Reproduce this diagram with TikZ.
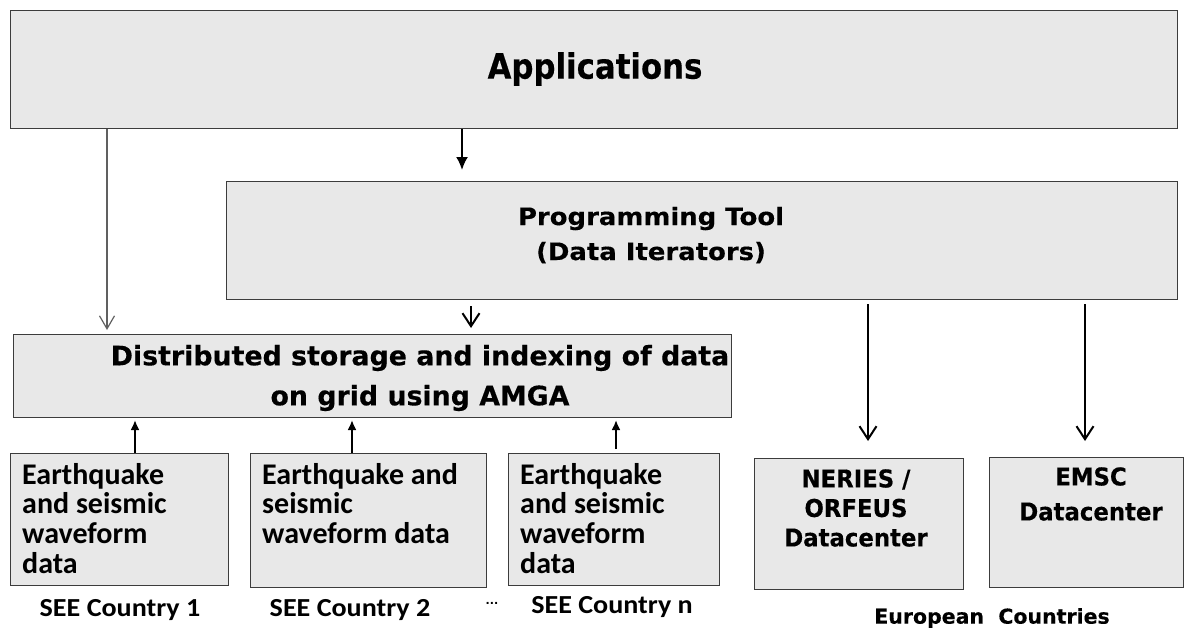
\documentclass[tikz,border=0pt]{standalone}
\usepackage{fontspec}
\setmainfont{DejaVu Sans}
\newfontfamily\tallfont{DejaVu Sans}[FakeStretch=0.88, FakeBold=0.3]
\newfontfamily\wideprog{DejaVu Sans}[FakeStretch=1.08, FakeBold=0.3]
\newfontfamily\dcfont{DejaVu Sans}[FakeStretch=0.93, FakeBold=0.3]
\newfontfamily\plainbold{DejaVu Sans}[FakeBold=0.3]
\newfontfamily\capfont{Carlito}
\newfontfamily\seefont{Carlito}[FakeStretch=1.08]
\usetikzlibrary{arrows.meta}
\definecolor{boxfill}{HTML}{E8E8E8}
\definecolor{boxline}{HTML}{3C3C3C}
\definecolor{thinline}{HTML}{606060}
\tikzset{
  panel/.style={draw=boxline, fill=boxfill, line width=1.4pt, inner sep=0pt, anchor=north west},
  heading/.style={inner sep=0pt, align=center},
  flowdown/.style={draw=black, line width=2pt, -{Latex[length=13pt,width=12pt]}},
  feed/.style={draw=black, line width=2pt, -{Straight Barb[length=13pt,width=17pt,line width=2pt]}},
  thinfeed/.style={draw=thinline, line width=1.2pt, -{Straight Barb[length=13pt,width=15pt,line width=1.2pt]}},
  flowup/.style={draw=black, line width=2pt, -{Latex[length=10pt,width=9pt]}},
  srctext/.style={inner sep=0pt, anchor=north west, align=left,
    font=\capfont\bfseries\fontsize{30}{29.7}\selectfont},
  country/.style={inner sep=0pt, font=\seefont\bfseries\fontsize{26}{28}\selectfont}
}
\begin{document}
\begin{tikzpicture}[x=1pt, y=-1pt]
\useasboundingbox (0,0) rectangle (1185,630);

% layers
\node[panel, minimum width=1167pt, minimum height=118pt] (app) at (10,10) {};
\node[panel, minimum width=951pt, minimum height=118pt] (prog) at (226,181) {};
\node[panel, minimum width=718pt, minimum height=83pt] (amga) at (13,334) {};

% data sources
\node[panel, minimum width=218pt, minimum height=132pt] (s1) at (10,453) {};
\node[panel, minimum width=236pt, minimum height=134pt] (s2) at (250,453) {};
\node[panel, minimum width=211pt, minimum height=132pt] (s3) at (508,453) {};
\node[panel, minimum width=209pt, minimum height=131pt] (neries) at (754,458) {};
\node[panel, minimum width=194pt, minimum height=130pt] (emsc) at (989,457) {};

% box texts
\node[heading, font=\tallfont\bfseries\fontsize{35}{40}\selectfont] (apptxt) at (595,69) {Applications};
\node[heading, font=\wideprog\bfseries\fontsize{24}{35}\selectfont] (progtxt) at (651,235) {Programming Tool\\(Data Iterators)};
\node[heading, font=\plainbold\bfseries\fontsize{26.8}{40}\selectfont] (amgatxt) at (420,378) {Distributed storage and indexing of data\\on grid using AMGA};
\node[srctext] (s1txt) at (22,463) {Earthquake\\and seismic\\waveform\\data};
\node[srctext] (s2txt) at (262,463) {Earthquake and\\seismic\\waveform data};
\node[srctext] (s3txt) at (520,463) {Earthquake\\and seismic\\waveform\\data};
\node[heading, font=\dcfont\bfseries\fontsize{24.5}{29.5}\selectfont] (nerietxt) at (856,508) {NERIES /\\ORFEUS\\Datacenter};
\node[heading, font=\dcfont\bfseries\fontsize{24.5}{35}\selectfont] (emsctxt) at (1091,494) {EMSC\\Datacenter};

% captions
\node[country] (c1) at (120,610) {SEE Country 1};
\node[country] (c2) at (350,610) {SEE Country 2};
\node[inner sep=0pt, font=\bfseries\fontsize{11}{12}\selectfont] (dots) at (492,603) {...};
\node[country] (cn) at (612,607) {SEE Country n};
\node[heading, font=\plainbold\bfseries\fontsize{20.5}{24}\selectfont] (eu) at (992,618) {European\ \ Countries};

% arrow end points
\coordinate (e1) at (107,330);
\coordinate (e2) at (462,170);
\coordinate (e3) at (471,328);
\coordinate (e4) at (868,441);
\coordinate (e5) at (1085,441);
\coordinate (u1) at (135,420);
\coordinate (u2) at (352,420);
\coordinate (u3) at (616,420);

% connectors
\draw[thinfeed] (app.south -| e1) -- (e1);
\draw[flowdown] (app.south -| e2) -- (e2);
\draw[feed] ([yshift=-6pt]prog.south -| e3) -- (e3);
\draw[feed] ([yshift=-4pt]prog.south -| e4) -- (e4);
\draw[feed] ([yshift=-4pt]prog.south -| e5) -- (e5);
\draw[flowup] (s1.north -| u1) -- (u1);
\draw[flowup] (s2.north -| u2) -- (u2);
\draw[flowup] ([yshift=4pt]s3.north -| u3) -- (u3);
\end{tikzpicture}
\end{document}
